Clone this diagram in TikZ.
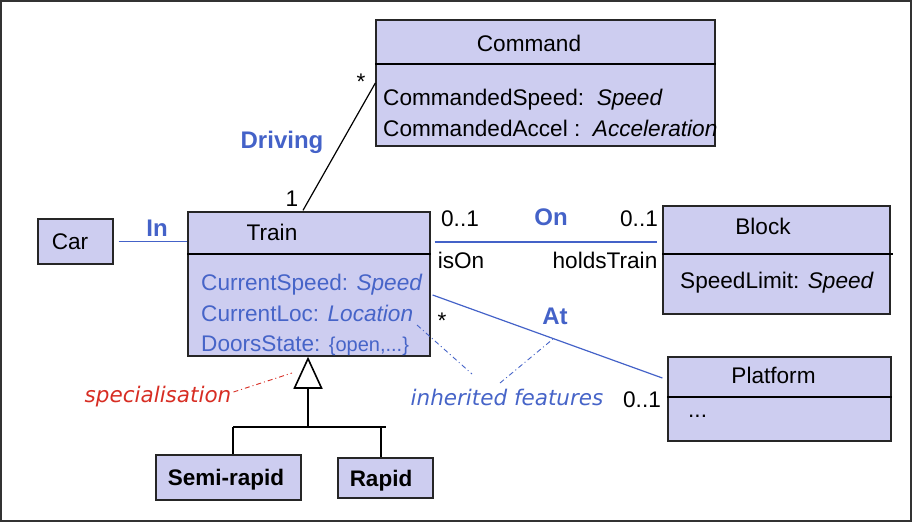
\documentclass[tikz,border=0pt]{standalone}
\usepackage{fontspec}
\setmainfont{Liberation Sans}
\newfontfamily\handfont{DejaVu Sans}
\usetikzlibrary{calc}
\definecolor{boxfill}{RGB}{205,205,240}
\definecolor{attrblue}{RGB}{70,100,200}
\definecolor{lblblue}{RGB}{68,98,200}
\definecolor{specred}{RGB}{215,45,35}
\begin{document}
\begin{tikzpicture}[x=1pt,y=-1pt,
  cls/.style={draw=black!85, fill=boxfill, line width=1.3pt, rectangle, inner sep=0pt},
  divider/.style={draw=black, line width=1.2pt},
  txt/.style={font=\fontsize{22.6}{26}\selectfont, inner sep=0pt, text height=16.2pt, text depth=0pt},
  boldlbl/.style={font=\fontsize{24}{28}\selectfont\bfseries, text=lblblue, inner sep=0pt, text height=17.4pt, text depth=0pt},
  boldtxt/.style={font=\fontsize{22.5}{26}\selectfont\bfseries, inner sep=0pt, text height=16.1pt, text depth=0pt},
  attr/.style={txt, text=attrblue},
  hand/.style={font=\fontsize{21.5}{25}\selectfont\handfont\itshape, inner sep=0pt, text height=15.3pt, text depth=0pt},
  assoc/.style={draw=lblblue, line width=1.2pt},
  blackline/.style={draw=black, line width=1.2pt},
  genline/.style={draw=black, line width=1.6pt},
  dashdotline/.style={line width=0.9pt, dash pattern=on 5pt off 3pt on 1pt off 3pt}
]
\useasboundingbox (0,0) rectangle (915,522);
\draw[black!80, line width=1.5pt] (0.8,0.8) rectangle (911,521.2);

% class boxes
\node[cls, minimum width=339pt, minimum height=126pt] (command) at (545.5,83) {};
\node[cls, minimum width=242pt, minimum height=144pt] (train) at (309,284) {};
\node[cls, minimum width=75pt, minimum height=45pt] (car) at (75.5,241.5) {};
\node[cls, minimum width=227pt, minimum height=108pt] (block) at (776.5,260) {};
\node[cls, minimum width=223pt, minimum height=84pt] (platform) at (779.5,399) {};
\node[cls, minimum width=145pt, minimum height=45pt] (semi) at (228.5,477.5) {};
\node[cls, minimum width=95pt, minimum height=40pt] (rapid) at (385.5,478) {};

% dividers
\draw[divider] (command.west |- 0,64) -- (command.east |- 0,64);
\draw[divider] (train.west |- 0,254) -- (train.east |- 0,254);
\draw[divider] (block.west |- 0,254) -- ($(block.east |- 0,254)+(2,0)$);
\draw[divider] (platform.west |- 0,397) -- (platform.east |- 0,397);

% class texts
\node[txt] (cmdname) at (529,43) {Command};
\node[txt, anchor=west] (cmda1) at (383,97) {CommandedSpeed:~~\textit{Speed}};
\node[txt, anchor=west] (cmda2) at (383,128) {CommandedAccel :~~\textit{Acceleration}};
\node[txt] (trainname) at (272,232) {Train};
\node[attr, anchor=west] (tra1) at (201,282) {CurrentSpeed: \textit{Speed}};
\node[attr, anchor=west] (tra2) at (201,313) {CurrentLoc: \textit{Location}};
\node[attr, anchor=west] (tra3) at (201,343) {DoorsState: {\fontsize{20}{24}\selectfont\{open,...\}}};
\node[txt] (carname) at (70,241) {Car};
\node[txt] (blockname) at (763,226) {Block};
\node[txt] (blocka1) at (777,280) {SpeedLimit: \textit{Speed}};
\node[txt] (platname) at (773.5,375) {Platform};
\node[txt, anchor=west] (plata1) at (688,409) {...};
\node[boldtxt] (seminame) at (226,477) {Semi-rapid};
\node[boldtxt] (rapidname) at (381,478) {Rapid};

% associations
\draw[assoc] ($(car.east)+(5,0)$) -- (car.east -| train.west);
\node[boldlbl] (inlbl) at (157,228) {In};

\draw[assoc] ($(train.east |- 0,242)+(4,0)$) -- ($(block.west |- 0,242)+(-5,0)$);
\node[txt] (on1) at (460,218) {0..1};
\node[boldlbl] (onlbl) at (551,217) {On};
\node[txt] (on2) at (639,218) {0..1};
\node[txt] (ison) at (461,260) {isOn};
\node[txt] (holds) at (605,260) {holdsTrain};

\draw[assoc] ($(train.east |- 0,295)+(2,0)$) -- ($(platform.west |- 0,378)+(-5,0)$);
\node[txt] (atstar) at (442,320) {*};
\node[boldlbl] (atlbl) at (555,316) {At};
\node[txt] (at2) at (642,399) {0..1};

\draw[blackline] ($(train.north -| 303,0)+(0,-1)$) -- (command.west |- 0,83);
\node[txt] (drstar) at (361,81) {*};
\node[txt] (drone) at (292,198) {1};
\node[boldlbl] (drlbl) at (282,140) {Driving};

% generalisation
\coordinate (gapex) at (train.south -| 308,0);
\coordinate (gbase) at (308,388);
\coordinate (gbar) at (308,427);
\draw[genline, fill=white, line join=miter] ($(gapex)+(0,2)$) -- (294.5,388) -- (321.5,388) -- cycle;
\draw[genline] (gbase) -- (gbar);
\draw[genline] (233,427) -- (386,427);
\draw[genline] (233,427) -- (semi.north -| 233,0);
\draw[genline] (381,427) -- (rapid.north -| 381,0);

% annotations
\node[hand, text=specred] (spec) at (158,395) {specialisation};
\coordinate (specend) at (292,373);
\draw[dashdotline, specred] ($(spec.east)+(2,-3)$) -- (specend);

\node[hand, text=attrblue] (inh) at (507,398) {inherited features};
\coordinate (inhA1) at (417,325);
\coordinate (inhA2) at (472,374);
\coordinate (inhB1) at (500,383);
\coordinate (inhB2) at (553,339);
\draw[dashdotline, attrblue] (inhA1) -- (inhA2);
\draw[dashdotline, attrblue] (inhB1) -- (inhB2);
\end{tikzpicture}
\end{document}
